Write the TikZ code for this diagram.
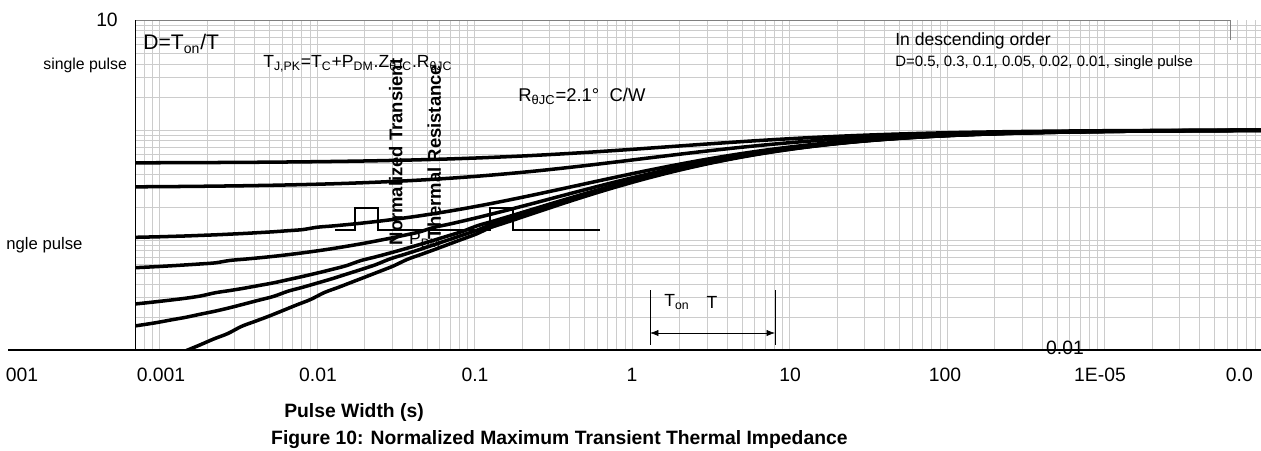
\documentclass[tikz,border=0pt]{standalone}
\usepackage{fontspec}
\setmainfont{Liberation Sans}
\usetikzlibrary{arrows.meta,positioning}

\begin{document}
\begin{tikzpicture}[x=0.02cm,y=-0.02cm,
    curve/.style={line width=2pt},
    gridline/.style={gray!40, line width=0.3pt},
    ticklabel/.style={font=\fontsize{11}{13}\selectfont},
    note/.style={font=\fontsize{10}{12}\selectfont, inner sep=0pt}]
    \useasboundingbox (0,0) rectangle (1261,450);

    % Grid and curves
    \begin{scope}
        \clip (135,20) rectangle (1261,350);
        \foreach \d in {-4,...,4}
            \foreach \m in {1,...,9}
                \draw[gridline] ({632+157.5*(\d+log10(\m))},20) -- ++(0,330);
        \foreach \d in {-2,-1,0}
            \foreach \m in {1,...,9}
                \draw[gridline] (135,{130-110*(\d+log10(\m))}) -- ++(1126,0);
        \foreach \duty in {0.5,0.3,0.1,0.05,0.02,0.01}
            \draw[curve] plot[domain=-3.2:4.1, samples=80, smooth]
                ({632+157.5*\x}, {130-110*log10(\duty+(1-\duty)*(10^(0.6*(\x-0.5)))/(1+10^(0.6*(\x-0.5))))});
        \draw[curve] plot[domain=-2.83:4.1, samples=80, smooth] % single pulse
            ({632+157.5*\x}, {130-110*log10((10^(0.6*(\x-0.5)))/(1+10^(0.6*(\x-0.5))))});
    \end{scope}

    % Axes
    \draw[gray] (135,20) -- (1230,20) -- (1230,40);
    \draw (135,20) -- (135,350);
    \draw[line width=1.5pt] (8,350) -- (1261,350);

    % Tick labels
    \node[ticklabel] (ytop) at (107,20) {10};
    \node[ticklabel] (ybot) at (1065,348) {0.01};
    \foreach \lab/\xx [count=\i] in {001/22, 0.001/161, 0.01/318, 0.1/475, 1/632, 10/790, 100/945, 1E-05/1100}
        \node[ticklabel] (xtick\i) at (\xx,375) {\lab};
    \node[ticklabel, anchor=east] (xtick9) at (1259,375) {0.0};

    % Axis titles and caption
    \node[font=\bfseries\fontsize{11}{13}\selectfont] (xlab) at (354,412) {Pulse Width (s)};
    \node[rotate=90, align=center, font=\bfseries\fontsize{10.5}{22}\selectfont] (ylab) at (415,152)
        {Normalized Transient\\Thermal Resistance};
    \node[font=\bfseries\fontsize{11}{13}\selectfont, anchor=west] (caption) at (265,440)
        {Figure 10: Normalized Maximum Transient Thermal Impedance};

    % Notes
    \node[note, anchor=west, font=\fontsize{12}{14}\selectfont] (duty) at (143,44) {D=T\textsubscript{on}/T};
    \node[note, anchor=west] (tjpk) at (263,64)
        {T\textsubscript{J,PK}=T\textsubscript{C}+P\textsubscript{DM}.Z\textsubscript{θJC}.R\textsubscript{θJC}};
    \node[note, anchor=west, font=\fontsize{10.5}{12}\selectfont] (rjc) at (518,96) {R\textsubscript{θJC}=2.1°\ \ C/W};
    \node[note, anchor=west] (order) at (895,41) {In descending order};
    \node[note, anchor=west, font=\fontsize{8.5}{10}\selectfont] (dlist) at (895,63)
        {D=0.5, 0.3, 0.1, 0.05, 0.02, 0.01, single pulse};
    \node[note, anchor=west, font=\fontsize{9}{11}\selectfont] (single1) at (43,65) {single pulse};
    \node[note, anchor=west, font=\fontsize{9.5}{11}\selectfont] (single2) at (6,245) {ngle pulse};

    % Pulse train
    \draw[thick] (335,230) -- (355,230) -- (355,208) -- (378,208) -- (378,230)
        -- (490,230) -- (490,208) -- (513,208) -- (513,230) -- (600,230);
    \node[note] (pdm) at (425,240) {P\textsubscript{DM}};
    \draw (650,290) -- (650,345);
    \draw (775,290) -- (775,345);
    \coordinate (tstart) at (650,333);
    \coordinate (tend) at (775,333);
    \draw[{Latex}-{Latex}] (tstart) -- (tend);
    \node[note] (ton) at (677,302) {T\textsubscript{on}};
    \node[note] (tper) at (712,302) {T};
\end{tikzpicture}
\end{document}
